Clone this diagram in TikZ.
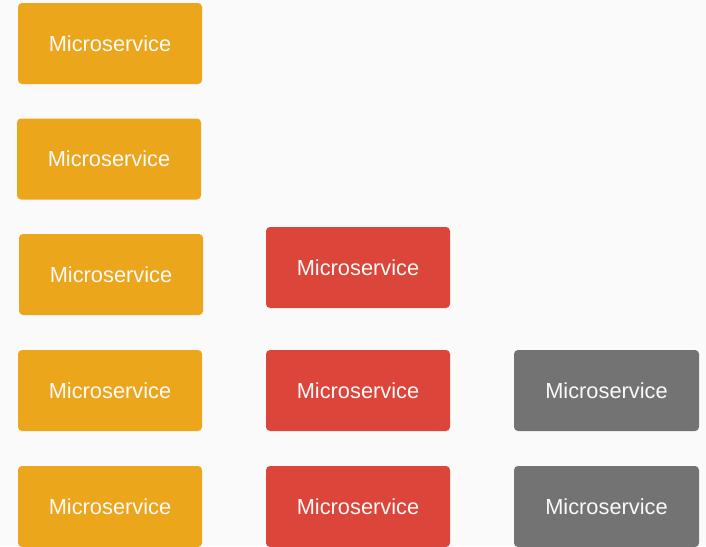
\documentclass[tikz,border=0pt]{standalone}
\usepackage{fontspec}
\setmainfont{Liberation Sans}
\definecolor{bg}{HTML}{FAFAFA}
\definecolor{ylw}{HTML}{EBA61C}
\definecolor{rd}{HTML}{DC4539}
\definecolor{gr}{HTML}{737373}
\begin{document}
\begin{tikzpicture}[x=1pt,y=-1pt,
  box/.style={rectangle, rounded corners=4pt, minimum width=184pt, minimum height=81pt,
    inner sep=0pt, text=bg, font=\fontsize{21.8}{26}\selectfont}]
\fill[bg] (0,0) rectangle (706,546);
\useasboundingbox (0,0) rectangle (706,546);
\node[box, fill=ylw] (y1) at (110,43.5) {Microservice};
\node[box, fill=ylw] (y2) at (109,159) {Microservice};
\node[box, fill=ylw] (y3) at (111,274.5) {Microservice};
\node[box, fill=ylw] (y4) at (110,390.5) {Microservice};
\node[box, fill=ylw] (y5) at (110,506.5) {Microservice};
\node[box, fill=rd] (r1) at (358,267.5) {Microservice};
\node[box, fill=rd] (r2) at (358,390.5) {Microservice};
\node[box, fill=rd] (r3) at (358,506.5) {Microservice};
\node[box, fill=gr, minimum width=185pt] (g1) at (606.5,390.5) {Microservice};
\node[box, fill=gr, minimum width=185pt] (g2) at (606.5,506.5) {Microservice};
\end{tikzpicture}
\end{document}
